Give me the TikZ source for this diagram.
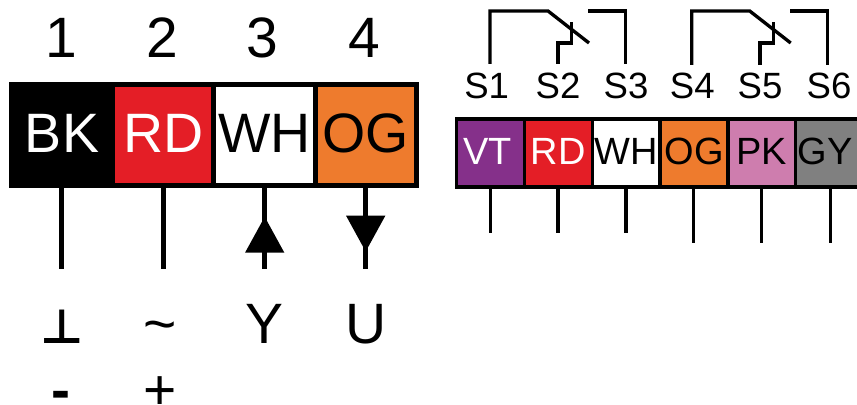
\documentclass[tikz,border=0pt]{standalone}
\usepackage{fontspec}
\setmainfont{Liberation Sans}
\newfontfamily\symfont{DejaVu Sans}
\usetikzlibrary{arrows.meta}
\definecolor{cRD}{HTML}{E41E26}
\definecolor{cOG}{HTML}{EE7B2D}
\definecolor{cVT}{HTML}{85308A}
\definecolor{cPK}{HTML}{CE7DAE}
\definecolor{cGY}{HTML}{808080}
\tikzset{
  cellbig/.style={draw=black,line width=1.4pt,minimum width=1.013cm,minimum height=1.01cm,inner sep=0pt,outer sep=0pt,
    text height=.39cm,text depth=.046cm,font=\fontsize{15.8}{18}\selectfont},
  cellsmall/.style={draw=black,line width=.95pt,minimum width=.678cm,minimum height=.68cm,inner sep=0pt,outer sep=0pt,
    text height=.275cm,text depth=.04cm,font=\fontsize{10.8}{13}\selectfont},
  wirebig/.style={line width=1.4pt},
  wiresmall/.style={line width=.95pt},
  bigtext/.style={anchor=base,inner sep=0pt,font=\fontsize{16.2}{18}\selectfont},
  pintext/.style={anchor=base,inner sep=0pt,font=\fontsize{10.4}{13}\selectfont},
  bigtip/.style={-{Triangle[length=.36cm,width=.38cm]}}
}
\begin{document}
\begin{tikzpicture}
  \useasboundingbox (0,0) rectangle (8.57,4.05);
  % left connector
  \node[bigtext] (n1) at (0.617,3.475) {1};
  \node[bigtext] (n2) at (1.625,3.475) {2};
  \node[bigtext] (n3) at (2.62,3.475) {3};
  \node[bigtext] (n4) at (3.645,3.475) {4};
  \node[cellbig,fill=black,text=white] (bk) at (0.62,2.697) {BK};
  \node[cellbig,fill=cRD,text=white] (rd) at (1.633,2.697) {RD};
  \node[cellbig,fill=white] (wh) at (2.646,2.697) {WH};
  \node[cellbig,fill=cOG] (og) at (3.659,2.697) {OG};
  \coordinate (bkend) at (0.617,1.36);
  \coordinate (rdend) at (1.633,1.36);
  \coordinate (whend) at (2.647,1.36);
  \coordinate (ogend) at (3.657,1.36);
  \draw[wirebig] (bk.south -| bkend) -- (bkend);
  \draw[wirebig] (rd.south -| rdend) -- (rdend);
  \draw[wirebig] (wh.south -| whend) -- (whend);
  \draw[wirebig] (og.south -| ogend) -- (ogend);
  \draw[wirebig,bigtip] (2.647,1.52) coordinate (ybase) -- (2.647,1.883) coordinate (ytip);
  \draw[wirebig,bigtip] (3.657,1.893) coordinate (ubase) -- (3.657,1.533) coordinate (utip);
  \node[bigtext] (gnd) at (0.617,0.617) {\symfont\bfseries\fontsize{13.5}{18}\selectfont ⊥};
  \node[bigtext] (ac) at (1.605,0.617) {\textasciitilde};
  \node[bigtext] (y) at (2.647,0.617) {Y};
  \node[bigtext] (u) at (3.657,0.617) {U};
  \node[bigtext] (minus) at (0.607,-0.05) {\bfseries -};
  \node[bigtext] (plus) at (1.60,-0.05) {+};
  % right connector
  \node[cellsmall,fill=cVT,text=white] (vt) at (4.906,2.52) {VT\kern.06cm};
  \node[cellsmall,fill=cRD,text=white] (rdb) at (5.584,2.52) {RD};
  \node[cellsmall,fill=white] (whb) at (6.262,2.52) {WH};
  \node[cellsmall,fill=cOG] (ogb) at (6.94,2.52) {OG};
  \node[cellsmall,fill=cPK] (pk) at (7.618,2.52) {PK};
  \node[cellsmall,fill=cGY] (gy) at (8.296,2.52) {GY\kern.092cm};
  \coordinate (vtend) at (4.905,1.72);
  \coordinate (rdbend) at (5.58,1.72);
  \coordinate (whbend) at (6.26,1.72);
  \coordinate (ogbend) at (6.935,1.62);
  \coordinate (pkend) at (7.615,1.62);
  \coordinate (gyend) at (8.305,1.62);
  \draw[wiresmall] (vt.south -| vtend) -- (vtend);
  \draw[wiresmall] (rdb.south -| rdbend) -- (rdbend);
  \draw[wiresmall] (whb.south -| whbend) -- (whbend);
  \draw[wiresmall] (ogb.south -| ogbend) -- (ogbend);
  \draw[wiresmall] (pk.south -| pkend) -- (pkend);
  \draw[wiresmall] (gy.south -| gyend) -- (gyend);
  \node[pintext] (s1) at (4.867,3.067) {S1};
  \node[pintext] (s2) at (5.58,3.067) {S2};
  \node[pintext] (s3) at (6.26,3.067) {S3};
  \node[pintext] (s4) at (6.923,3.067) {S4};
  \node[pintext] (s5) at (7.60,3.067) {S5};
  \node[pintext] (s6) at (8.29,3.067) {S6};
  % contacts
  \coordinate (swa) at (4.90,3.41);
  \coordinate (swb) at (5.58,3.41);
  \coordinate (swc) at (6.257,3.41);
  \coordinate (swd) at (6.917,3.40);
  \coordinate (swe) at (7.60,3.40);
  \coordinate (swf) at (8.277,3.40);
  \draw[wiresmall] (swa) -- ++(0,.53) -- ++(.58,0) -- ++(.41,-.32);
  \draw[wiresmall] (swb) -- ++(0,.21) -- ++(.137,0) -- ++(0,.21);
  \draw[wiresmall] (swc) -- ++(0,.53) -- ++(-.377,0);
  \draw[wiresmall] (swd) -- ++(0,.54) -- ++(.58,0) -- ++(.41,-.32);
  \draw[wiresmall] (swe) -- ++(0,.22) -- ++(.137,0) -- ++(0,.21);
  \draw[wiresmall] (swf) -- ++(0,.54) -- ++(-.377,0);
\end{tikzpicture}
\end{document}
